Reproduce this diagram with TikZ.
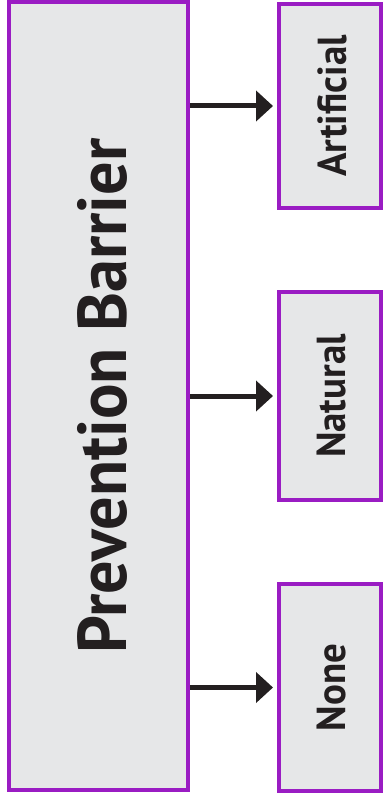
\documentclass[tikz,border=0pt]{standalone}
\usepackage{fontspec}
\setmainfont{PT Sans}[FakeStretch=0.96]
\usepackage{graphicx}
\usepackage{tikz}
\usetikzlibrary{arrows.meta}
\definecolor{barpurple}{HTML}{9A1CC3}
\definecolor{barfill}{HTML}{E6E7E8}
\definecolor{bartext}{HTML}{231F20}

\begin{document}
\begin{tikzpicture}[x=1pt, y=-1pt,
			box/.style={draw=barpurple, fill=barfill, line width=4pt, inner sep=0pt,
				text=bartext, font=\bfseries},
			link/.style={draw=bartext, line width=5pt, shorten >=4pt,
				-{Triangle[length=17pt, width=30pt]}}]
			\useasboundingbox (0,0) rectangle (383,802);
			\node[box, minimum width=179pt, minimum height=788pt, font=\bfseries\fontsize{69}{70}\selectfont]
			(barrier) at (98.5,396) {\hspace{8pt}\rotatebox{90}{Prevention Barrier}};
			\node[box, minimum width=102pt, minimum height=204pt, font=\bfseries\fontsize{40.5}{42}\selectfont]
			(artificial) at (330,106) {\hspace{4pt}\rotatebox{90}{Artificial}};
			\node[box, minimum width=102pt, minimum height=208pt, font=\bfseries\fontsize{40.5}{42}\selectfont]
			(natural) at (330,396) {\hspace{4pt}\rotatebox{90}{Natural}};
			\node[box, minimum width=102pt, minimum height=207pt, font=\bfseries\fontsize{40.5}{42}\selectfont]
			(none) at (330,687.5) {\hspace{4pt}\rotatebox{90}{None}};
			\draw[link] (barrier.east |- artificial.west) -- (artificial.west);
			\draw[link] (barrier.east |- natural.west) -- (natural.west);
			\draw[link] (barrier.east |- none.west) -- (none.west);
			\end{tikzpicture}
\end{document}
